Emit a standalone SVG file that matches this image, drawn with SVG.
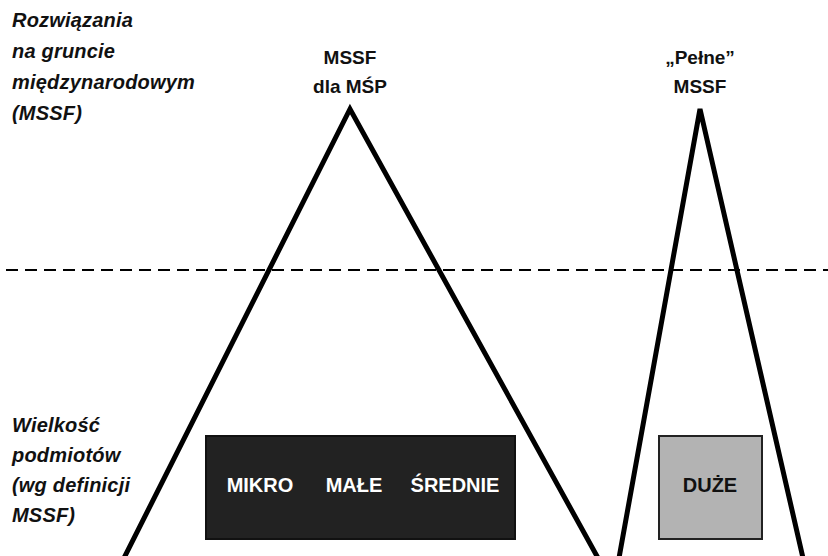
<svg xmlns="http://www.w3.org/2000/svg" width="828" height="556" viewBox="0 0 828 556">
<style>
.lbl{font-family:"Liberation Sans",Arial,sans-serif;font-weight:bold;font-style:italic;font-size:20px;letter-spacing:0.2px;fill:#111}
.hdr{font-family:"Liberation Sans",Arial,sans-serif;font-weight:bold;font-size:19px;fill:#111;text-anchor:middle}
.box{font-family:"Liberation Sans",Arial,sans-serif;font-weight:bold;font-size:20px;text-anchor:middle}
.tri{fill:none;stroke:#000;stroke-width:5;stroke-linejoin:miter}
</style>
<rect width="828" height="556" fill="#fff"/>
<g id="label-top">
<text class="lbl" x="12" y="27">Rozwiązania</text>
<text class="lbl" x="12" y="58">na gruncie</text>
<text class="lbl" x="12" y="89">międzynarodowym</text>
<text class="lbl" x="12" y="120">(MSSF)</text>
</g>
<g id="label-bottom">
<text class="lbl" x="12" y="432">Wielkość</text>
<text class="lbl" x="12" y="462">podmiotów</text>
<text class="lbl" x="12" y="492">(wg definicji</text>
<text class="lbl" x="12" y="522">MSSF)</text>
</g>
<g id="connectors">
<line x1="6" y1="270" x2="828" y2="270" stroke="#000" stroke-width="2" stroke-dasharray="12 7"/>
<polyline class="tri" points="124,558 350,109 598,558"/>
<polyline class="tri" points="619,558 700,109 803,558"/>
</g>
<g id="mssf-msp">
<text class="hdr" x="350" y="64">MSSF</text>
<text class="hdr" x="350" y="93">dla MŚP</text>
</g>
<g id="pelne-mssf">
<text class="hdr" x="700" y="64">„Pełne”</text>
<text class="hdr" x="700" y="93">MSSF</text>
</g>
<g id="msp-box">
<rect x="206" y="436" width="309" height="103" fill="#222" stroke="#111" stroke-width="2"/>
<text class="box" x="260" y="492" fill="#fff">MIKRO</text>
<text class="box" x="354" y="492" fill="#fff">MAŁE</text>
<text class="box" x="455" y="492" fill="#fff">ŚREDNIE</text>
</g>
<g id="duze-box">
<rect x="659" y="436" width="103" height="103" fill="#b3b3b3" stroke="#222" stroke-width="2"/>
<text class="box" x="710" y="492" fill="#111">DUŻE</text>
</g>
</svg>
